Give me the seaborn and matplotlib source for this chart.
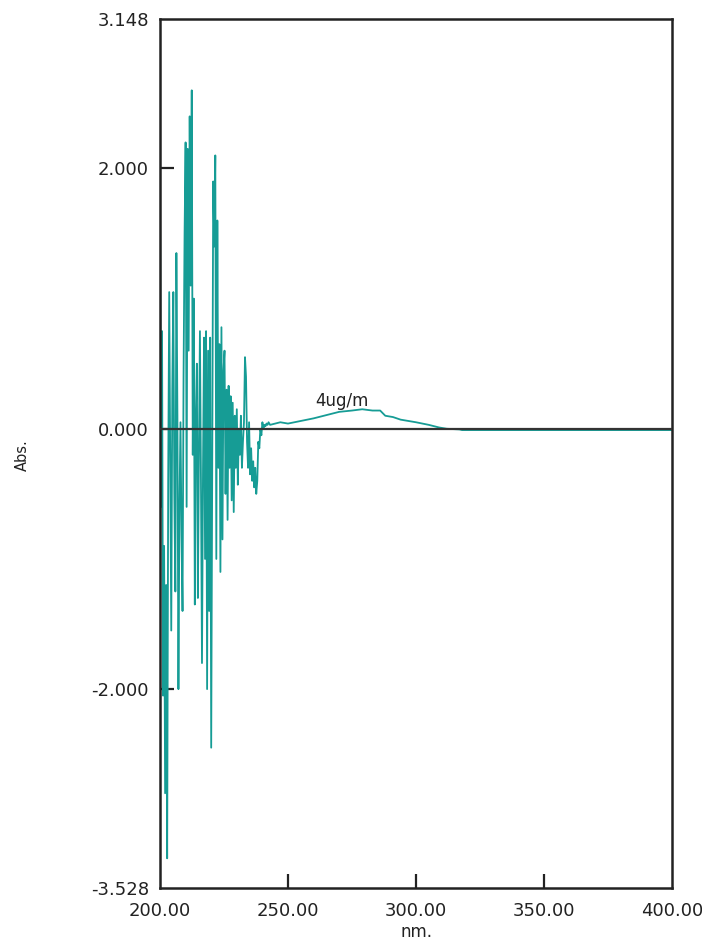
import numpy as np
import pandas as pd
import seaborn as sns
import matplotlib.pyplot as plt

# noisy region, sampled every 0.4 nm from 200 nm
noise_start = 200.0
noise_step = 0.4
noise_abs = [
    1.83, -0.6, 0.75, -2.05, -0.9, -2.8, -1.2, -3.3, -0.4, 1.05,
    -0.2, -1.55, 0.3, 1.05, -0.5, -1.25, 1.35, 0.1, -2.0, -0.6,
    0.05, -0.8, -1.4, 0.4, 1.5, 2.2, -0.6, 2.15, 0.6, 2.4,
    1.1, 2.6, -0.2, 1.0, -1.35, 0.1, 0.5, -1.3, -0.2, 0.75,
    -0.4, -1.8, -0.3, 0.7, -1.0, 0.75, -2.0, 0.6, -1.4, 0.7,
    -2.45, -0.2, 1.9, 1.4, 2.1, -1.0, 1.6, -0.3, 0.65, -1.1,
    0.78, -0.85, 0.45, 0.6, -0.5, 0.3, -0.7, 0.33, -0.3, 0.25,
    -0.55, 0.2, -0.64, 0.1, -0.3, 0.15, -0.43, 0.0, -0.2, 0.1,
    -0.3, -0.1, 0.05, 0.55, 0.4, -0.1, -0.3, 0.05, -0.35, -0.15,
    -0.4, -0.25, -0.45, -0.3, -0.5, -0.4, -0.1, -0.15, 0.0, -0.05,
    0.05, 0.0, 0.03, 0.02, 0.04, 0.03, 0.05,
]

# smooth band and baseline after the noise
band_nm = [243, 247, 250, 255, 260, 266, 270, 275, 279, 283, 286, 288,
           291, 294, 300, 305, 309, 312, 317, 318, 330, 350, 370, 400]
band_abs = [0.03, 0.05, 0.04, 0.06, 0.08, 0.11, 0.13, 0.14, 0.15, 0.14, 0.14, 0.10,
            0.09, 0.07, 0.05, 0.03, 0.01, 0.0, -0.005, -0.01, -0.01, -0.01, -0.01, -0.01]

x_ticks = [200, 250, 300, 350, 400]
y_ticks = [-3.528, -2.0, 0.0, 2.0, 3.148]
y_labels = ["-3.528", "-2.000", "0.000", "2.000", "3.148"]

noise_nm = noise_start + noise_step * np.arange(len(noise_abs))
df = pd.DataFrame({
    "nm": np.concatenate([noise_nm, band_nm]),
    "Abs": np.concatenate([noise_abs, band_abs]),
})

sns.set_style("white")
plt.rcParams["font.family"] = ["DejaVu Sans"]

fig = plt.figure(figsize=(7.02, 9.43), dpi=100)
ax = fig.add_axes([160 / 702, 1 - 888 / 943, 512 / 702, 869 / 943])

ax.axhline(0, color="#333333", lw=1.6, zorder=3)
sns.lineplot(data=df, x="nm", y="Abs", sort=False, estimator=None,
             color="#169c95", lw=1.3, ax=ax, zorder=2)

ax.set_xlim(200, 400)
ax.set_ylim(-3.528, 3.148)
ax.set_xticks(x_ticks)
ax.set_xticklabels([f"{v:.2f}" for v in x_ticks])
ax.set_yticks(y_ticks)
ax.set_yticklabels(y_labels)
ax.tick_params(bottom=True, left=True, top=False, right=False,
               direction="in", length=10, width=1.6, labelsize=13,
               colors="#222222", pad=8)
ax.tick_params(axis="x", pad=10)
# end ticks sit on the frame, hide their marks
for i in (0, -1):
    ax.yaxis.get_major_ticks()[i].tick1line.set_visible(False)
    ax.xaxis.get_major_ticks()[i].tick1line.set_visible(False)
for s in ax.spines.values():
    s.set_linewidth(1.8)
    s.set_color("#222222")

ax.set_xlabel("")
ax.set_ylabel("")
ax.text(271, 0.215, "4ug/m", fontsize=12, ha="center", va="center", color="#222222")

fig.text(22 / 702, 1 - 455 / 943, "Abs.", rotation=90, fontsize=10.5,
         ha="center", va="center", color="#222222")
fig.text(416 / 702, 2 / 943, "nm.", fontsize=12, ha="center", va="bottom",
         color="#222222")

fig.savefig("out.png", dpi=100)
